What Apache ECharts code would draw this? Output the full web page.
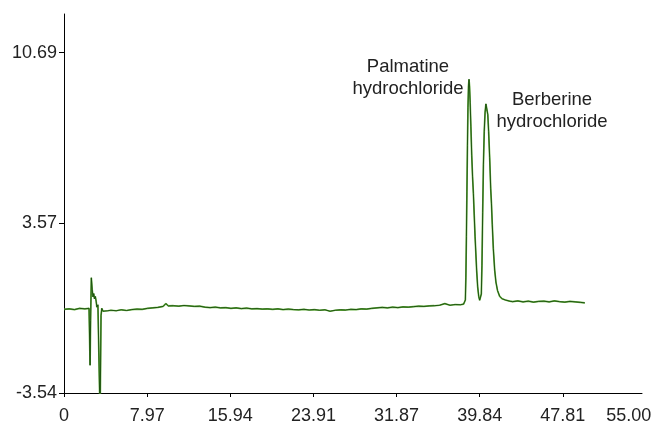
<!DOCTYPE html>
<html>
<head>
<meta charset="utf-8">
<title>Chromatogram</title>
<script src="https://cdn.jsdelivr.net/npm/echarts@6/dist/echarts.min.js"></script>
<style>
    html, body { margin: 0; padding: 0; background: #fff; }
    #main { width: 655px; height: 421px; }
</style>
</head>
<body>
<div id="main"></div>
<script>
// retention time (min)
var times = [
    0, 0.5, 1.0, 1.5, 2.0, 2.4,
    2.45, 2.50, 2.55, 2.62, 2.70, 2.78, 2.85, 2.92, 3.00, 3.08, 3.15, 3.25, 3.35, 3.46, 3.55, 3.62, 3.74, 3.9, 4.2,
    4.5, 5.0, 5.5, 6.0, 6.5, 7.0, 7.5, 8.0, 8.5, 9.0, 9.5, 9.76, 10.0, 10.5, 11.0, 11.5, 12.0, 12.5, 13.0, 13.5,
    14.0, 14.5, 15.0, 15.5, 16.0, 16.5, 17.0, 17.5, 18.0, 18.5, 19.0, 19.5, 20.0, 20.5, 21.0, 21.5, 22.0, 22.5,
    23.0, 23.5, 24.0, 24.5, 25.0, 25.5, 26.0, 26.5, 27.0, 27.5, 28.0, 28.5, 29.0, 29.5, 30.0, 30.5, 31.0, 31.5,
    32.0, 32.5, 33.0, 33.5, 34.0, 34.5, 35.0, 35.5, 36.0, 36.5, 37.0, 37.5, 38.0, 38.3,
    38.40, 38.47, 38.52, 38.57, 38.62, 38.67, 38.72, 38.77, 38.82, 38.87, 38.93, 39.00, 39.08, 39.16, 39.24,
    39.32, 39.40, 39.46, 39.55, 39.65, 39.75, 39.84, 39.95,
    40.00, 40.06, 40.13, 40.20, 40.28, 40.36, 40.44, 40.49, 40.55, 40.62, 40.70, 40.80, 40.90, 40.97,
    41.05, 41.15, 41.28, 41.40, 41.55, 41.76, 42.0, 42.3, 42.72,
    43.0, 43.5, 44.0, 44.5, 45.0, 45.5, 46.0, 46.5, 47.0, 47.5, 48.0, 48.5, 49.0, 49.5, 49.92
];
// detector signal
var signal = [
    -0.04, -0.02, -0.05, 0.0, -0.02, 0.0,
    -0.05, -2.38, -0.5, 1.28, 0.8, 0.48, 0.62, 0.4, 0.5, 0.3, 0.05, 0.15, 0.1, -4.6, -0.3, 0.0, -0.12, -0.06, -0.1,
    -0.08, -0.1, -0.06, -0.09, -0.05, -0.03, -0.04, 0.0, 0.02, 0.04, 0.08, 0.2, 0.1, 0.11, 0.09, 0.12, 0.1, 0.08, 0.09, 0.05,
    0.03, 0.05, 0.02, 0.03, 0.0, 0.02, -0.01, 0.01, -0.02, -0.01, -0.03, -0.02, -0.04, -0.02, -0.05, -0.03, -0.05, -0.06,
    -0.04, -0.07, -0.05, -0.08, -0.06, -0.12, -0.08, -0.06, -0.07, -0.04, -0.05, -0.02, -0.03, 0.0, 0.02, 0.04, 0.02, 0.05,
    0.03, 0.06, 0.05, 0.07, 0.09, 0.08, 0.1, 0.11, 0.13, 0.2, 0.13, 0.16, 0.15, 0.18,
    0.22, 0.35, 1.3, 3.0, 4.9, 6.8, 8.4, 9.3, 9.58, 9.3, 8.6, 7.6, 6.4, 5.5, 4.8,
    3.9, 3.0, 2.44, 1.6, 0.9, 0.5, 0.34, 0.4,
    0.6, 1.8, 4.0, 6.0, 7.4, 8.2, 8.55, 8.62, 8.5, 8.1, 7.4, 6.3, 5.0, 4.4,
    3.5, 2.5, 1.6, 1.1, 0.75, 0.5, 0.4, 0.35, 0.3,
    0.28, 0.31, 0.27, 0.3, 0.26, 0.29, 0.3, 0.27, 0.31, 0.28, 0.26, 0.29, 0.27, 0.25, 0.23
];
// tick labels
var xTicks = [0, 7.97, 15.94, 23.91, 31.87, 39.84, 47.81];
var xLabels = [0, 7.97, 15.94, 23.91, 31.87, 39.84, 47.81, 55];
var yTicks = [-3.54, 3.57, 10.69];
var peakNames = ['Palmatine\nhydrochloride', 'Berberine\nhydrochloride'];

var points = [];
for (var i = 0; i < times.length; i++) {
    points.push([times[i], signal[i]]);
}

var font = '"Liberation Sans", Arial, sans-serif';
var chart = echarts.init(document.getElementById('main'));
var option = {
    animation: false,
    backgroundColor: '#fff',
    grid: { left: 64, right: 13, top: 14, bottom: 28, containLabel: false, outerBoundsMode: 'none' },
    xAxis: {
        type: 'value',
        min: 0,
        max: 55.4,
        splitLine: { show: false },
        axisLine: { onZero: false, lineStyle: { color: '#000', width: 1 } },
        axisTick: { customValues: xTicks, length: 4, lineStyle: { color: '#000' } },
        axisLabel: {
            customValues: xLabels,
            margin: 14,
            fontSize: 18,
            fontFamily: font,
            color: '#222',
            formatter: function (v) {
                if (v === 0) return '0';
                if (v === 55) return '{last|55.00}';
                return v.toFixed(2);
            },
            rich: {
                last: { fontSize: 18, fontFamily: font, color: '#222', padding: [0, 18, 0, 0] }
            }
        }
    },
    yAxis: {
        type: 'value',
        min: -3.54,
        max: 12.31,
        splitLine: { show: false },
        axisLine: { show: true, lineStyle: { color: '#000', width: 1 } },
        axisTick: { show: true, customValues: yTicks, length: 5, lineStyle: { color: '#000' } },
        axisLabel: {
            customValues: yTicks,
            margin: 7,
            fontSize: 18,
            fontFamily: font,
            color: '#222',
            formatter: function (v) { return v.toFixed(2); }
        }
    },
    graphic: [
        {
            type: 'text', x: 408, y: 56,
            style: { text: peakNames[0], fontSize: 18.5, fontFamily: font, fill: '#222', lineHeight: 22, align: 'center', verticalAlign: 'top' }
        },
        {
            type: 'text', x: 552, y: 89,
            style: { text: peakNames[1], fontSize: 18.5, fontFamily: font, fill: '#222', lineHeight: 22, align: 'center', verticalAlign: 'top' }
        }
    ],
    series: [
        {
            // light green halo
            type: 'line',
            data: points,
            showSymbol: false,
            clip: true,
            silent: true,
            lineStyle: { color: '#66b040', width: 1.7 },
            itemStyle: { color: '#66b040' }
        },
        {
            type: 'line',
            data: points,
            showSymbol: false,
            clip: true,
            lineStyle: { color: '#174a0c', width: 0.9 },
            itemStyle: { color: '#174a0c' }
        }
    ]
};
chart.setOption(option);
</script>
</body>
</html>
